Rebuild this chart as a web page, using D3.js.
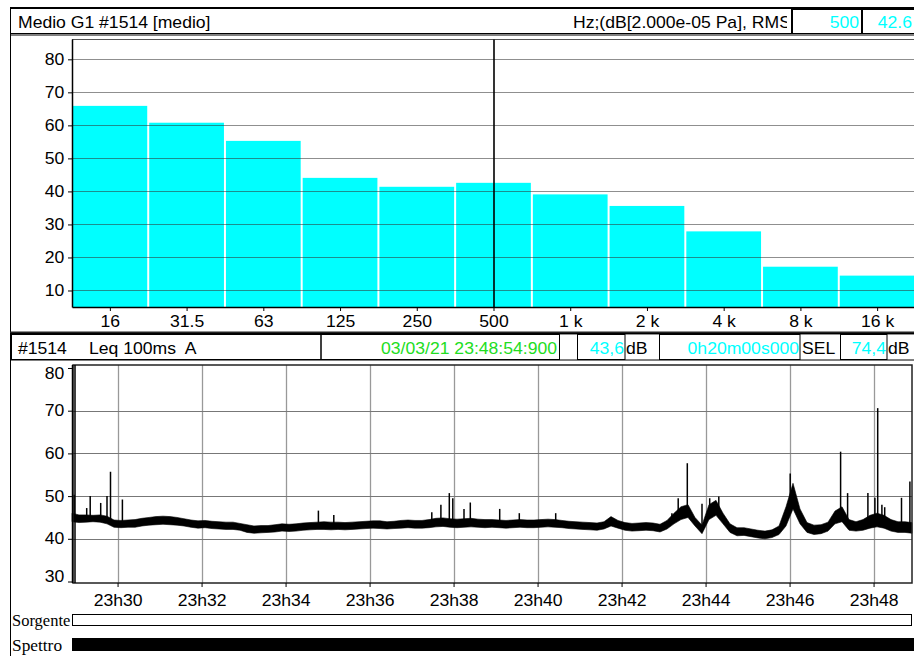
<!DOCTYPE html>
<html><head><meta charset="utf-8">
<script src="https://cdn.jsdelivr.net/npm/d3@7"></script>
<style>
body{margin:0;background:#fff;overflow:hidden}
svg{display:block}
text{font-family:"Liberation Sans",Arial,sans-serif;font-size:16px;fill:#000}
.serif{font-family:"Liberation Serif","Times New Roman",serif;font-size:17px}
</style>
</head><body><svg id="c" width="914" height="656"></svg>
<script>
// ---------------- DATA ----------------
const bands = ["16","31.5","63","125","250","500","1 k","2 k","4 k","8 k","16 k"];
const bandLevels = [65.9,60.8,55.3,44.1,41.4,42.6,39.1,35.6,27.9,17.2,14.5];
const spectrumTicks = [10,20,30,40,50,60,70,80];
const cursorBand = "500";
const cursorValue = "42.6";

const levelTicks = [30,40,50,60,70,80];
const recordStart = new Date(2021,2,3,23,28,54,900);
const recordSeconds = 1200;
const binSeconds = 10;
// lower / upper envelope of the Leq 100ms A trace, one value every 10 s
const levelLow = [
44.0,43.8,43.9,44.0,43.9,43.5,42.7,42.6,42.7,42.7,
43.0,43.2,43.3,43.4,43.3,43.2,43.0,42.7,42.5,42.6,
42.4,42.3,42.2,42.2,42.0,41.5,41.3,41.4,41.5,41.6,
41.8,41.7,41.8,42.0,42.1,42.2,42.2,42.1,42.2,42.1,
42.2,42.3,42.4,42.5,42.4,42.3,42.4,42.5,42.6,42.5,
42.5,42.6,42.8,42.9,42.7,42.6,42.7,42.8,42.7,42.6,
42.7,42.6,42.5,42.6,42.7,42.6,42.6,42.7,42.8,42.7,
42.6,42.4,42.3,42.2,42.1,42.0,42.3,43.0,42.5,42.0,
41.8,41.9,42.0,41.9,41.6,42.3,43.5,44.5,45.0,43.0,
41.2,44.5,45.5,43.5,41.5,40.7,40.8,40.5,40.2,40.0,
40.3,41.0,43.0,47.0,43.5,41.5,41.0,41.2,41.8,43.5,
44.0,42.0,41.8,42.0,42.5,42.8,42.5,41.8,41.5,41.5,41.3];
const levelHigh = [
46.0,45.6,45.6,45.5,45.6,45.3,44.4,44.3,44.4,44.5,
44.8,45.0,45.2,45.3,45.2,45.0,44.7,44.4,44.2,44.3,
44.1,44.0,43.9,43.9,43.6,43.3,43.0,43.1,43.1,43.3,
43.5,43.4,43.5,43.7,43.8,43.9,44.0,43.9,43.9,43.8,
43.9,44.0,44.1,44.2,44.2,44.0,44.1,44.3,44.4,44.3,
44.3,44.5,44.8,44.9,44.7,44.6,44.7,44.8,44.6,44.5,
44.5,44.4,44.3,44.4,44.5,44.4,44.4,44.5,44.6,44.5,
44.3,44.1,44.0,43.9,43.8,43.7,44.0,45.2,44.3,43.8,
43.6,43.7,43.8,43.7,43.4,44.3,46.0,47.5,48.0,45.0,
43.2,48.0,49.0,46.0,43.5,42.6,42.6,42.3,42.0,41.8,
42.1,43.0,47.5,53.0,47.0,43.8,43.2,43.3,43.9,46.5,
47.5,44.5,44.0,44.5,45.5,46.0,45.5,44.5,44.0,44.0,43.8];
// isolated peaks: seconds after record start, peak level
const spikeSeconds = [3,21,26,41,50,55,72,352,374,514,527,539,544,560,569,611,639,691,857,866,879,900,911,924,1026,1098,1108,1137,1147,1151,1157,1161,1185,1197];
const spikePeaks   = [50.3,47.2,50.0,48.4,50.0,55.7,49.2,46.6,45.6,46.2,48.0,50.7,49.5,47.0,48.5,47.0,46.0,46.0,46.0,49.5,57.7,48.2,49.5,49.9,55.3,60.4,50.7,50.7,49.6,70.6,48.0,47.4,49.6,53.4];

const headerTitle = "Medio G1 #1514 [medio]";
const headerUnits = "Hz;(dB[2.000e-05 Pa], RMS";
const rowId = "#1514", rowName = "Leq 100ms  A";
const rowDate = "03/03/21 23:48:54:900", rowLeq = "43,6", rowDur = "0h20m00s000", rowSel = "74,4";
const lanes = ["Sorgente","Spettro"];

// ---------------- DRAW ----------------
const svg = d3.select("#c");
const CY = "#00ffff", GR = "#22dd22";
const SX = 1.1; // horizontal glyph stretch of the original display

function txt(g, x, y, s, opt={}) {
  const t = g.append("text")
    .attr("transform", `translate(${x},${y}) scale(${opt.sx || SX},1)`)
    .attr("text-anchor", opt.anchor || "start")
    .style("white-space","pre")
    .text(s);
  if (opt.fill) t.style("fill", opt.fill);
  if (opt.cls) t.attr("class", opt.cls);
  return t;
}
function box(x, y, w, h, sw=1) {
  svg.append("rect").attr("x",x).attr("y",y).attr("width",w).attr("height",h)
    .attr("fill","none").attr("stroke","#000").attr("stroke-width",sw);
}

// header row
svg.append("defs").append("clipPath").attr("id","hclip")
  .append("rect").attr("x",10).attr("y",0).attr("width",777).attr("height",40);
box(10.5, 8.5, 910, 25);
svg.append("line").attr("x1",10).attr("x2",914).attr("y1",8).attr("y2",8).attr("stroke","#000").attr("stroke-width",2);
svg.append("line").attr("x1",10).attr("x2",914).attr("y1",35).attr("y2",35).attr("stroke","#000").attr("stroke-width",1);
txt(svg, 18, 28, headerTitle);
txt(svg.append("g").attr("clip-path","url(#hclip)"), 573, 28, headerUnits);
box(791.5, 9.5, 70, 24);
svg.append("line").attr("x1",792).attr("x2",792).attr("y1",9).attr("y2",34).attr("stroke","#000").attr("stroke-width",2);
box(861.5, 9.5, 60, 24);
svg.append("line").attr("x1",862).attr("x2",862).attr("y1",9).attr("y2",34).attr("stroke","#000").attr("stroke-width",2);
txt(svg, 859, 28, cursorBand, {anchor:"end", fill:CY});
txt(svg, 912, 28, cursorValue, {anchor:"end", fill:CY});

// outer left frame
svg.append("line").attr("x1",10.5).attr("x2",10.5).attr("y1",8).attr("y2",656).attr("stroke","#000");

// ---- spectrum chart ----
const P1 = {l:72, r:916, t:39.5, b:307};
const xb = d3.scaleBand().domain(bands).range([P1.l, P1.r]).padding(0);
const ys = d3.scaleLinear().domain([5,86]).range([P1.b, P1.t]);
const gTop = svg.append("g");
gTop.append("line").attr("x1",P1.l).attr("x2",914).attr("y1",P1.t).attr("y2",P1.t).attr("stroke","#555");
gTop.selectAll("rect.bar").data(bands).join("rect").attr("class","bar")
  .attr("x", d => xb(d)+0.5).attr("width", xb.bandwidth()-2)
  .attr("y", (d,i) => ys(bandLevels[i])).attr("height", (d,i) => P1.b - ys(bandLevels[i]))
  .attr("fill", CY);
gTop.selectAll("line.grid").data(spectrumTicks).join("line").attr("class","grid")
  .attr("x1", P1.l).attr("x2", 914).attr("y1", d => Math.round(ys(d))+0.5).attr("y2", d => Math.round(ys(d))+0.5)
  .attr("stroke","#333").attr("stroke-opacity",0.55);
gTop.append("line").attr("x1", xb(cursorBand)+xb.bandwidth()/2).attr("x2", xb(cursorBand)+xb.bandwidth()/2)
  .attr("y1", P1.t).attr("y2", P1.b).attr("stroke","#000").attr("stroke-width",1.6);
const ayTop = gTop.append("g").attr("transform",`translate(${P1.l},0)`)
  .call(d3.axisLeft(ys).tickValues(spectrumTicks).tickSize(4).tickSizeOuter(0));
ayTop.select(".domain").remove();
gTop.append("line").attr("x1",P1.l+0.5).attr("x2",P1.l+0.5).attr("y1",P1.t).attr("y2",P1.b+0.5).attr("stroke","#000").attr("stroke-width",1.5);
const axTop = gTop.append("g").attr("transform",`translate(0,${P1.b})`)
  .call(d3.axisBottom(xb).tickSize(4).tickSizeOuter(0).tickPadding(4));
axTop.select(".domain").attr("stroke","#000").attr("stroke-width",1.5);
[ayTop, axTop].forEach(a => {
  a.selectAll("text").style("font-size","16px").attr("transform",`scale(${SX},1)`);
  a.attr("font-family",null).attr("font-size",null);
});
axTop.selectAll("text").attr("dy","0.75em");

// separator and second info row
svg.append("line").attr("x1",10).attr("x2",914).attr("y1",333).attr("y2",333).attr("stroke","#222").attr("stroke-width",3);
box(10.5, 333.5, 910, 26.5);
box(11.5, 334.5, 309.5, 25);
box(321, 334.5, 238.5, 25);
box(577.5, 334.5, 47.5, 25);
box(659.5, 334.5, 140.5, 25);
box(840.5, 334.5, 46.5, 25);
txt(svg, 18, 354, rowId);
txt(svg, 89, 354, rowName);
txt(svg, 557, 354, rowDate, {anchor:"end", fill:GR});
txt(svg, 624, 354, rowLeq, {anchor:"end", fill:CY});
txt(svg, 626, 354, "dB");
txt(svg, 799, 354, rowDur, {anchor:"end", fill:CY});
txt(svg, 802, 354, "SEL");
txt(svg, 886, 354, rowSel, {anchor:"end", fill:CY});
txt(svg, 888, 354, "dB");

// ---- time history chart ----
const P2 = {l:72, r:912, t:365, b:583};
const xt = d3.scaleTime().domain([recordStart, d3.timeSecond.offset(recordStart, recordSeconds)]).range([P2.l, P2.r]);
const yl = d3.scaleLinear().domain([29.65, 80.7]).range([P2.b, P2.t]);
const gBot = svg.append("g");
const timeTicks = xt.ticks(d3.timeMinute.every(2));
gBot.selectAll("line.vg").data(timeTicks).join("line").attr("class","vg")
  .attr("x1", d => Math.round(xt(d))+0.5).attr("x2", d => Math.round(xt(d))+0.5)
  .attr("y1", P2.t).attr("y2", P2.b).attr("stroke","#999").attr("stroke-width",1.3);
gBot.selectAll("line.hg").data(levelTicks.filter(d => d>30 && d<80)).join("line").attr("class","hg")
  .attr("x1", P2.l).attr("x2", P2.r).attr("y1", d => Math.round(yl(d))+0.5).attr("y2", d => Math.round(yl(d))+0.5)
  .attr("stroke","#777").attr("stroke-width",1.2);

const pts = levelLow.map((lo,i) => ({t: d3.timeSecond.offset(recordStart, i*binSeconds), lo, hi: levelHigh[i]}));
gBot.append("path").datum(pts)
  .attr("d", d3.area().x(d => xt(d.t)).y0(d => yl(d.lo)).y1(d => yl(d.hi)))
  .attr("fill","#000").attr("stroke","#000").attr("stroke-width",0.6).attr("stroke-linejoin","round");
const baseAt = s => {
  const i = Math.min(levelHigh.length-2, Math.floor(s/binSeconds)), f = s/binSeconds - i;
  return (levelLow[i]+levelHigh[i])/2*(1-f) + (levelLow[i+1]+levelHigh[i+1])/2*f;
};
gBot.selectAll("line.sp").data(spikeSeconds).join("line").attr("class","sp")
  .attr("x1", s => xt(d3.timeSecond.offset(recordStart, s))).attr("x2", s => xt(d3.timeSecond.offset(recordStart, s)))
  .attr("y1", s => yl(baseAt(s))).attr("y2", (s,i) => yl(spikePeaks[i]))
  .attr("stroke","#000").attr("stroke-width",1.5);

gBot.append("rect").attr("x",P2.l+1).attr("y",P2.t).attr("width",P2.r-P2.l-1).attr("height",P2.b-P2.t)
  .attr("fill","none").attr("stroke","#222").attr("stroke-width",1.5);
gBot.append("line").attr("x1",P2.l+0.5).attr("x2",P2.l+0.5).attr("y1",P2.t).attr("y2",P2.b).attr("stroke","#000").attr("stroke-width",1.5);
gBot.append("line").attr("x1",P2.l+3).attr("x2",P2.l+3).attr("y1",P2.t).attr("y2",P2.b).attr("stroke","#000").attr("stroke-width",1.5);

const ayBot = gBot.append("g").attr("transform",`translate(${P2.l},0)`)
  .call(d3.axisLeft(yl).tickValues(levelTicks).tickSize(4).tickSizeOuter(0));
ayBot.select(".domain").remove();
ayBot.selectAll(".tick").filter(d => d===80).select("text").attr("y",5);
ayBot.selectAll(".tick").filter(d => d===30).select("text").attr("y",-5.5);
const axBot = gBot.append("g").attr("transform",`translate(0,${P2.b})`)
  .call(d3.axisBottom(xt).tickValues(timeTicks).tickFormat(d3.timeFormat("%Hh%M")).tickSize(4).tickSizeOuter(0).tickPadding(5));
axBot.select(".domain").remove();
[ayBot, axBot].forEach(a => {
  a.selectAll("text").style("font-size","16px").attr("transform",`scale(${SX},1)`);
  a.attr("font-family",null).attr("font-size",null);
});
axBot.selectAll("text").attr("dy","0.85em");

// lanes
txt(svg, 12, 626, lanes[0], {cls:"serif", sx:0.97});
txt(svg, 12, 651, lanes[1], {cls:"serif", sx:1.02});
svg.append("rect").attr("x",72.5).attr("y",614.5).attr("width",839).attr("height",11).attr("fill","#fff").attr("stroke","#000");
svg.append("rect").attr("x",72).attr("y",638).attr("width",844).attr("height",13).attr("fill","#000");
</script>
</body></html>
